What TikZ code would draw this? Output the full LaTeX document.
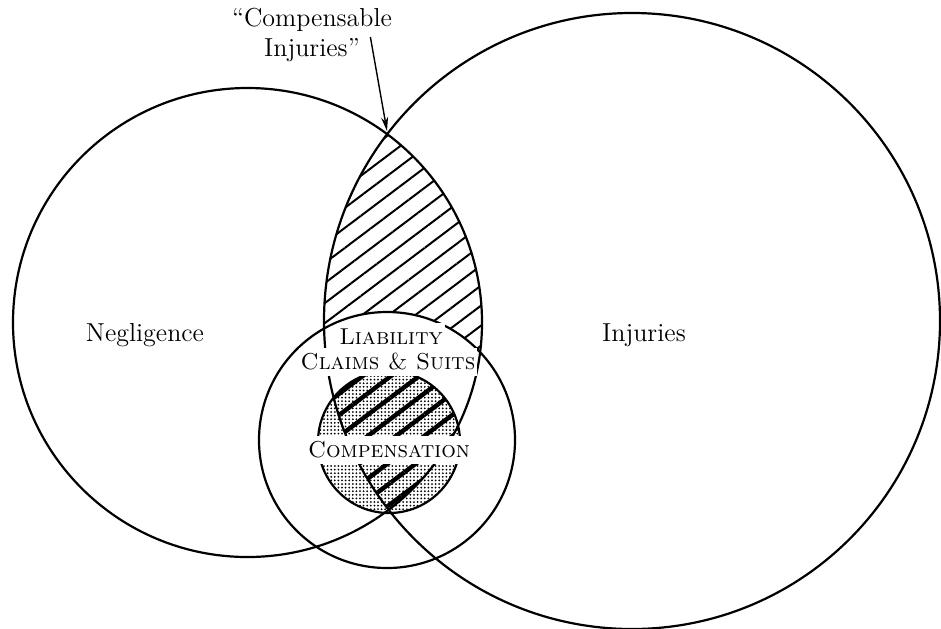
\documentclass[tikz,border=0pt]{standalone}
\usepackage{tikz}
\usetikzlibrary{arrows.meta,patterns.meta}
\tikzstyle{ring} = [line width=1.1pt, draw=black]
\tikzstyle{setname} = [font=\fontsize{13}{15}\selectfont, inner sep=1pt, align=center]
\tikzstyle{capname} = [font=\fontsize{11.5}{13}\selectfont\scshape, fill=white, inner xsep=1pt, inner ysep=3pt]
\tikzstyle{hatch} = [pattern={Lines[angle=37,distance=8pt,line width=1pt]}]
\tikzstyle{hatchbold} = [pattern={Lines[angle=37,distance=8.5pt,line width=2.2pt]}]
\tikzstyle{stipple} = [pattern={Dots[distance=1.8pt,radius=0.5pt]}]
\tikzstyle{pointer} = [line width=0.7pt, -{Stealth[length=7pt,width=3.5pt]}]

\begin{document}
\begin{tikzpicture}[x=0.5pt, y=-0.5pt]
 \useasboundingbox (0,0) rectangle (941,628);

 % centres of the four sets
 \coordinate (neglc) at (247.5,322.5);
 \coordinate (injc) at (632,321);
 \coordinate (liabc) at (387,440);
 \coordinate (compc) at (389,442);
 \coordinate (cross) at (387,131);

 % compensable injuries
 \begin{scope}
  \clip (neglc) circle[radius=234.5];
  \clip (injc) circle[radius=308];
  \path[hatch] (0,0) rectangle (941,628);
 \end{scope}
 \fill[white] (liabc) circle[radius=128];

 % compensation
 \path[stipple] (compc) circle[radius=71];
 \begin{scope}
  \clip (neglc) circle[radius=234.5];
  \clip (injc) circle[radius=308];
  \clip (compc) circle[radius=71];
  \path[hatchbold] (0,0) rectangle (941,628);
 \end{scope}

 \draw[ring] (neglc) circle[radius=234.5];
 \draw[ring] (injc) circle[radius=308];
 \draw[ring] (liabc) circle[radius=128];
 \draw[ring] (compc) circle[radius=71];

 \node (neglname) [setname] at (145,335) {Negligence};
 \node (injname) [setname] at (644,335) {Injuries};
 \node (liabname) [capname] at (391,337) {Liability};
 \node (claimname) [capname] at (388,362) {Claims \& Suits};
 \node (compname) [capname] at (389,450) {Compensation};
 \node (cinj) [setname] at (312,35) {``Compensable\\Injuries''};

 \draw[pointer] ([xshift=-12pt,yshift=-1pt]cinj.east) -- (cross);
\end{tikzpicture}
\end{document}
